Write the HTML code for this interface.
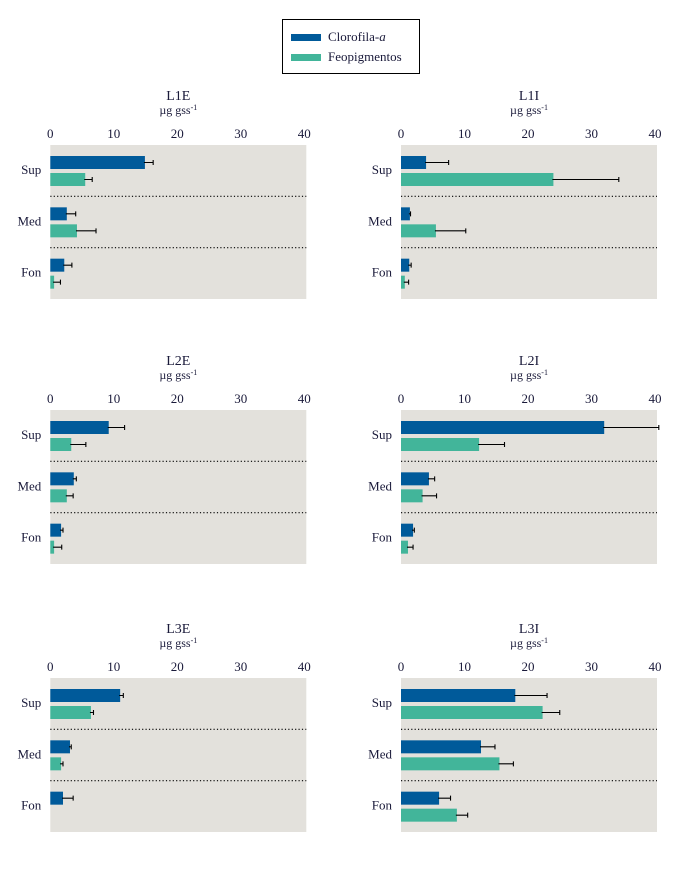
<!DOCTYPE html>
<html><head><meta charset="utf-8"><style>
body{margin:0;background:#fff;}
svg{display:block;font-family:"Liberation Serif",serif;}
</style></head><body>
<svg id="chart" width="689" height="877" viewBox="0 0 689 877">
<g>
<rect x="282.5" y="19.5" width="137" height="54" fill="#fff" stroke="#000" stroke-width="1"/>
<rect x="291" y="34" width="30" height="7" fill="#005a9a"/>
<text x="328" y="41" font-size="13" fill="#1a1a3a">Clorofila-<tspan font-style="italic">a</tspan></text>
<rect x="291" y="54" width="30" height="7" fill="#42b59a"/>
<text x="328" y="61" font-size="13" fill="#1a1a3a">Feopigmentos</text>
</g>
</svg>
<script>
const panelNames = ["L1E","L1I","L2E","L2I","L3E","L3I"];
const categories = ["Sup","Med","Fon"];
const ticks = [0,10,20,30,40];
const cloro = [[14.9,2.6,2.2],[3.95,1.4,1.3],[9.2,3.7,1.7],[32.0,4.4,1.9],[11.0,3.1,2.0],[18.0,12.6,6.0]];
const cloroErr = [[16.2,4.0,3.4],[7.5,1.5,1.6],[11.7,4.1,2.0],[40.6,5.3,2.1],[11.5,3.3,3.6],[23.0,14.8,7.8]];
const feo = [[5.5,4.2,0.6],[24.0,5.5,0.6],[3.3,2.6,0.6],[12.3,3.4,1.1],[6.4,1.7,0],[22.3,15.5,8.8]];
const feoErr = [[6.6,7.2,1.6],[34.3,10.2,1.2],[5.6,3.6,1.8],[16.3,5.6,1.9],[6.8,2.0,0],[25.0,17.7,10.5]];

const NS="http://www.w3.org/2000/svg";
const svg=document.getElementById('chart');
function mk(tag,attrs,parent){const e=document.createElementNS(NS,tag);for(const k in attrs)e.setAttribute(k,attrs[k]);parent.appendChild(e);return e;}
const colX=[50.3,401];
const rowY=[145,410,678];
const W=254, H=154, maxV=40;
panelNames.forEach((name,pi)=>{
  const x0=colX[pi%2], y0=rowY[Math.floor(pi/2)];
  const sx=v=>x0+v/maxV*W;
  const g=mk('g',{},svg);
  
  
  const bg=mk('rect',{x:x0,y:y0,width:W+2,height:H,fill:'#e3e1dc'},g);
  
  
  const t=mk('text',{x:x0+128,y:y0-45,'text-anchor':'middle','font-size':14,fill:'#1a1a3a'},g);
  t.textContent=name;
  
  
  const u=mk('text',{x:x0+128,y:y0-31,'text-anchor':'middle','font-size':12,fill:'#1a1a3a'},g);
  u.innerHTML='µg gss<tspan font-size="8" dy="-4">-1</tspan>';
  
  
  ticks.forEach(tv=>{
    const tl=mk('text',{x:sx(tv),y:y0-7,'text-anchor':'middle','font-size':13,fill:'#1a1a3a'},g);
    tl.textContent=tv;
    
    
  });
  const band=H/3;
  categories.forEach((c,ci)=>{
    const by=y0+ci*band;
    const cl=mk('text',{x:x0-9,y:by+29,'text-anchor':'end','font-size':13,fill:'#1a1a3a'},g);
    cl.textContent=c;
    
    
    if(ci>0){
      const sep=mk('line',{x1:x0,x2:x0+W+2,y1:by,y2:by,stroke:'#000','stroke-width':1.2,'stroke-dasharray':'1.2 2.2'},g);
      
      
    }
    [[cloro,cloroErr,'#005a9a',11,'clorofila'],[feo,feoErr,'#42b59a',28,'feopigmentos']].forEach(([vals,errs,col,off,sn])=>{
      const v=vals[pi][ci], e=errs[pi][ci];
      if(v<=0)return;
      const b=mk('rect',{x:x0,y:by+off,width:sx(v)-x0,height:13,fill:col},g);
      
      
      const cy=by+off+6.5;
      const el=mk('path',{d:`M${sx(v)-1},${cy}H${sx(e)}M${sx(e)},${cy-2.5}V${cy+2.5}`,stroke:'#000','stroke-width':1.1,fill:'none'},g);
      
      
    });
  });
});
</script>
</body></html>
